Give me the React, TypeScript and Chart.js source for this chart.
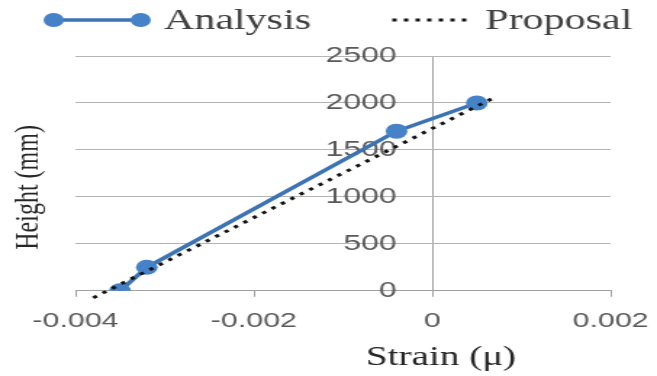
import React, { useEffect, useRef } from 'react';
import { Chart, registerables } from 'chart.js';

Chart.register(...registerables);

// ---- data ----
const seriesNames = ['Analysis', 'Proposal'];
const analysisStrain = [-0.0035, -0.0032, -0.0004, 0.0005];
const analysisHeight = [0, 250, 1700, 2000];
const proposalStrain = [-0.0038, 0.0007];
const proposalHeight = [-75, 2060];
const xTickLabels = ['-0.004', '-0.002', '0', '0.002'];
const yTickLabels = ['0', '500', '1000', '1500', '2000', '2500'];
const xTitle = 'Strain (\u03bc)';
const yTitle = 'Height (mm)';
const yLabelAnchor = -0.0004; // strain value at which y tick labels end (left of the 0 axis)

// ---- look ----
const PAGE_W = 657;
const PAGE_H = 376;
const STRETCH = 1.45;
const CANVAS_W = Math.round(PAGE_W / STRETCH);
const SERIF = '"Liberation Serif", "Times New Roman", serif';
const SANS = '"Liberation Sans", Arial, sans-serif';
const BLUE_LINE = '#3c73b4';
const BLUE_MARK = '#4582c8';
const GRID = '#b4b4b4';
const AXIS = '#a0a0a0';

const decorPlugin = {
  id: 'decor',
  afterDraw(chart: any) {
    const { ctx, chartArea, scales } = chart;
    const xs = scales.x;
    ctx.save();
    // x axis title
    ctx.font = `27px ${SERIF}`;
    ctx.fillStyle = '#262626';
    ctx.textAlign = 'center';
    ctx.textBaseline = 'alphabetic';
    ctx.fillText(xTitle, xs.getPixelForValue(0) + 6, chart.height - 11);
    // y axis title
    ctx.save();
    ctx.translate(chartArea.left - 32, (chartArea.top + chartArea.bottom) / 2 + 14);
    ctx.rotate(-Math.PI / 2);
    ctx.font = `24px ${SERIF}`;
    ctx.textBaseline = 'middle';
    ctx.textAlign = 'center';
    ctx.fillText(yTitle, 0, 0);
    ctx.restore();

    // legend
    ctx.font = `29px ${SERIF}`;
    const symW = [60, 55];
    const textGap = [16, 9];
    const itemGap = 56;
    const widths = seriesNames.map((n, i) => symW[i] + textGap[i] + ctx.measureText(n).width);
    const total = widths.reduce((a, b) => a + b, 0) + itemGap;
    let x = (chartArea.left + chartArea.right) / 2 - total / 2;
    const ly = 20;
    seriesNames.forEach((name, i) => {
      const ds = chart.data.datasets[i];
      ctx.save();
      ctx.strokeStyle = ds.borderColor;
      ctx.lineWidth = ds.borderWidth;
      if (ds.borderDash) ctx.setLineDash(ds.borderDash);
      ctx.beginPath();
      ctx.moveTo(x, ly);
      ctx.lineTo(x + symW[i], ly);
      ctx.stroke();
      if (ds.pointRadius > 0) {
        ctx.fillStyle = ds.pointBackgroundColor;
        [x, x + symW[i]].forEach((cx) => {
          ctx.beginPath();
          ctx.arc(cx, ly, 7, 0, Math.PI * 2);
          ctx.fill();
        });
      }
      ctx.restore();
      ctx.fillStyle = '#404040';
      ctx.textAlign = 'left';
      ctx.textBaseline = 'alphabetic';
      ctx.fillText(name, x + symW[i] + textGap[i], ly + 9);
      x += widths[i] + itemGap;
    });
    ctx.restore();
  },
};

export default function App() {
  const ref = useRef<HTMLCanvasElement | null>(null);

  useEffect(() => {
    if (!ref.current) return;
    const chart = new Chart(ref.current, {
      type: 'scatter',
      data: {
        datasets: [
          {
            label: seriesNames[0],
            data: analysisStrain.map((x, i) => ({ x, y: analysisHeight[i] })),
            showLine: true,
            borderColor: BLUE_LINE,
            borderWidth: 3.5,
            pointRadius: 7.5,
            pointBackgroundColor: BLUE_MARK,
            pointBorderWidth: 0,
            order: 1,
          },
          {
            label: seriesNames[1],
            data: proposalStrain.map((x, i) => ({ x, y: proposalHeight[i] })),
            showLine: true,
            borderColor: '#111111',
            borderWidth: 3,
            borderDash: [3, 5],
            pointRadius: 0,
            clip: false,
            order: 0,
          } as any,
        ],
      },
      options: {
        responsive: false,
        devicePixelRatio: 1,
        animation: false,
        layout: { padding: { left: 52, right: 32, top: 56, bottom: 30 } },
        plugins: { legend: { display: false }, tooltip: { enabled: false } },
        scales: {
          x: {
            type: 'linear',
            position: 'bottom',
            min: -0.004,
            max: 0.002,
            afterFit: (scale: any) => {
              scale.paddingLeft = 0;
              scale.paddingRight = 0;
            },
            ticks: {
              stepSize: 0.002,
              autoSkip: false,
              maxRotation: 0,
              padding: 12,
              color: '#595959',
              font: { family: SANS, size: 21 },
              callback: (_v: any, i: number) => xTickLabels[i],
            },
            grid: {
              drawOnChartArea: true,
              drawTicks: true,
              tickLength: 6,
              tickColor: AXIS,
              color: (c: any) => (c.tick && Math.abs(c.tick.value) < 1e-12 ? AXIS : 'rgba(0,0,0,0)'),
            },
            border: { display: true, color: AXIS, width: 1 },
          },
          y: {
            type: 'linear',
            position: { x: yLabelAnchor } as any,
            min: 0,
            max: 2500,
            ticks: {
              stepSize: 500,
              color: '#595959',
              font: { family: SANS, size: 22 },
              callback: (_v: any, i: number) => yTickLabels[i],
            },
            grid: { color: GRID, drawTicks: false },
            border: { display: false },
          },
        },
      },
      plugins: [decorPlugin],
    });
    return () => chart.destroy();
  }, []);

  return (
    <div style={{ position: 'absolute', left: 0, top: 0, width: PAGE_W, height: PAGE_H, background: '#fff' }}>
      <canvas
        ref={ref}
        width={CANVAS_W}
        height={PAGE_H}
        style={{ width: `${PAGE_W}px`, height: `${PAGE_H}px`, display: 'block' }}
      />
    </div>
  );
}
